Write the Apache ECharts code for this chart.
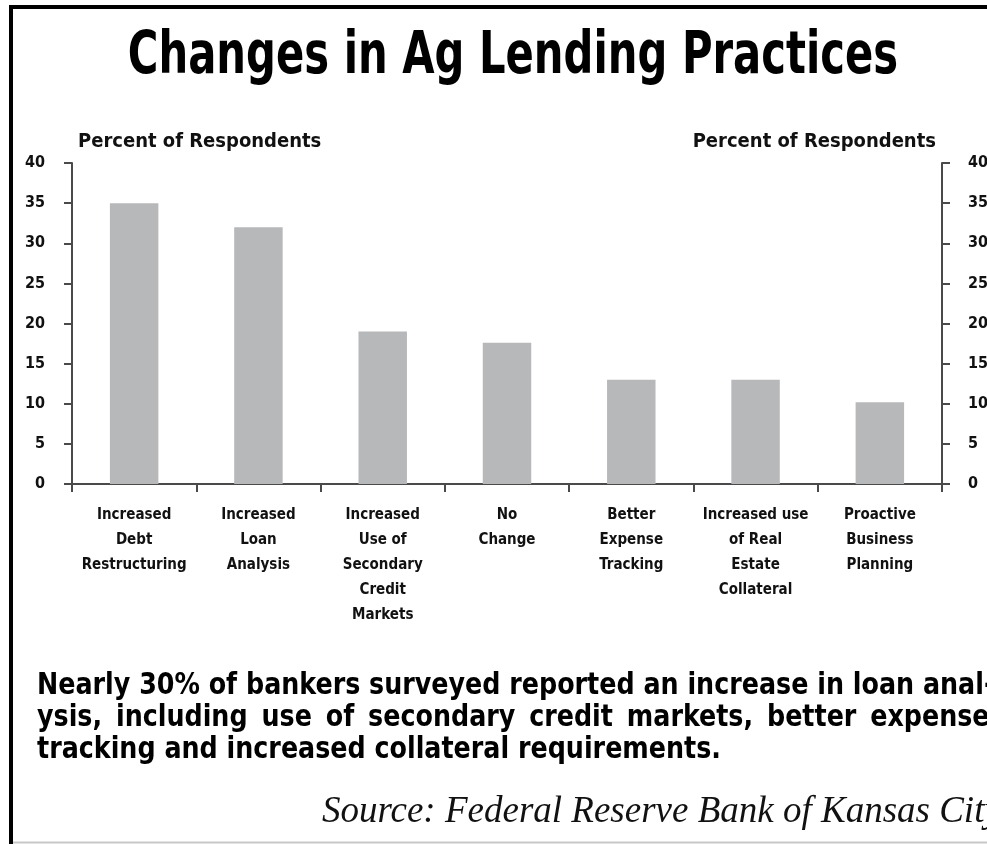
<!DOCTYPE html>
<html>
<head>
<meta charset="utf-8">
<script src="https://cdn.jsdelivr.net/npm/echarts@6/dist/echarts.min.js"></script>
<style>
  html, body { margin: 0; padding: 0; background: #ffffff; }
  #chart { width: 987px; height: 844px; }
</style>
</head>
<body>
<div id="chart"></div>
<script>
// Survey responses: share of ag bankers reporting each lending change
const categories = [
  'Increased\nDebt\nRestructuring',
  'Increased\nLoan\nAnalysis',
  'Increased\nUse of\nSecondary\nCredit\nMarkets',
  'No\nChange',
  'Better\nExpense\nTracking',
  'Increased use\nof Real\nEstate\nCollateral',
  'Proactive\nBusiness\nPlanning'
];
const percentRespondents = [35, 32, 19, 17.6, 13, 13, 10.2];

const axisMin = 0;
const axisMax = 40;
const axisStep = 5;

const titleText = 'Changes in Ag Lending Practices';
const axisTitle = 'Percent of Respondents';
const noteLines = [
  'Nearly 30% of bankers surveyed reported an increase in loan anal-',
  'ysis, including use of secondary credit markets, better expense',
  'tracking and increased collateral requirements.'
];
const sourceText = 'Source: Federal Reserve Bank of Kansas City';

const COND = '"DejaVu Sans Condensed", "Liberation Sans Narrow", sans-serif';
const AXIS_COLOR = '#4a4a4a';
const INK = '#111111';

const chart = echarts.init(document.getElementById('chart'), null, { renderer: 'canvas' });

function valueAxis(position, alignName, labelMargin) {
  return {
    type: 'value',
    position: position,
    min: axisMin,
    max: axisMax,
    interval: axisStep,
    name: axisTitle,
    nameLocation: 'end',
    nameGap: 21,
    nameTextStyle: {
      fontFamily: COND,
      fontWeight: 'bold',
      fontSize: 20,
      color: INK,
      align: alignName,
      verticalAlign: 'middle',
      padding: alignName === 'left' ? [0, 0, 0, 6] : [0, 6, 0, 0]
    },
    axisLine: { show: true, lineStyle: { color: AXIS_COLOR, width: 2 } },
    axisTick: { show: true, inside: false, length: 8, lineStyle: { color: AXIS_COLOR, width: 2 } },
    axisLabel: {
      margin: labelMargin,
      fontFamily: COND,
      fontWeight: 'bold',
      fontSize: 16,
      color: INK
    },
    splitLine: { show: false }
  };
}

// justified paragraph lines: widen each word gap by a thin space
function justify(text, extraGaps) {
  const pad = '\u2009'.repeat(extraGaps);
  return text.split(' ').join(' ' + pad);
}

function bodyLine(text, y) {
  return {
    type: 'text',
    x: 37,
    y: y,
    scaleX: 0.94,
    originX: 0,
    style: {
      text: text,
      fontFamily: COND,
      fontWeight: 'bold',
      fontSize: 30,
      fill: '#000000',
      verticalAlign: 'middle'
    }
  };
}

const option = {
  backgroundColor: '#ffffff',
  animation: false,
  grid: { left: 72, right: 45, top: 163, bottom: 360, outerBoundsMode: 'none', containLabel: false },
  xAxis: [
    {
      type: 'category',
      data: categories,
      position: 'bottom',
      boundaryGap: true,
      axisLine: { show: true, lineStyle: { color: AXIS_COLOR, width: 2 } },
      axisTick: { show: true, inside: false, length: 8, alignWithLabel: false, lineStyle: { color: AXIS_COLOR, width: 2 } },
      axisLabel: {
        interval: 0,
        margin: 19,
        lineHeight: 25,
        fontFamily: COND,
        fontWeight: 'bold',
        fontSize: 15,
        color: INK,
        align: 'center',
        verticalAlign: 'top'
      },
      splitLine: { show: false }
    },
    {
      // top frame of the plot area
      type: 'category',
      data: categories,
      position: 'top',
      axisLine: { show: true, lineStyle: { color: AXIS_COLOR, width: 2 } },
      axisTick: { show: false },
      axisLabel: { show: false },
      splitLine: { show: false }
    }
  ],
  yAxis: [
    valueAxis('left', 'left', 27),
    valueAxis('right', 'right', 26)
  ],
  series: [
    {
      type: 'bar',
      xAxisIndex: 0,
      yAxisIndex: 0,
      data: percentRespondents,
      barWidth: '39%',
      itemStyle: { color: '#b7b8ba' },
      silent: true
    }
  ],
  graphic: [
    // outer frame of the panel
    {
      type: 'rect',
      shape: { x: 11, y: 7, width: 1100, height: 900 },
      style: { fill: null, stroke: '#000000', lineWidth: 4 },
      silent: true
    },
    {
      type: 'line',
      shape: { x1: 13, y1: 842.5, x2: 987, y2: 842.5 },
      style: { stroke: '#c8c8c8', lineWidth: 2 },
      silent: true
    },
    {
      type: 'text',
      x: 513,
      y: 58,
      scaleX: 0.8,
      originX: 0,
      style: {
        text: titleText,
        fontFamily: COND,
        fontWeight: 'bold',
        fontSize: 58,
        fill: '#000000',
        align: 'center',
        verticalAlign: 'middle'
      }
    },
    bodyLine(noteLines[0], 686),
    bodyLine(justify(noteLines[1], 1), 718),
    bodyLine(noteLines[2], 750),
    {
      type: 'text',
      x: 322,
      y: 812,
      style: {
        text: sourceText,
        fontFamily: '"Liberation Serif", "DejaVu Serif", serif',
        fontStyle: 'italic',
        fontSize: 37,
        fill: '#111111',
        verticalAlign: 'middle'
      }
    }
  ]
};

chart.setOption(option);
</script>
</body>
</html>
